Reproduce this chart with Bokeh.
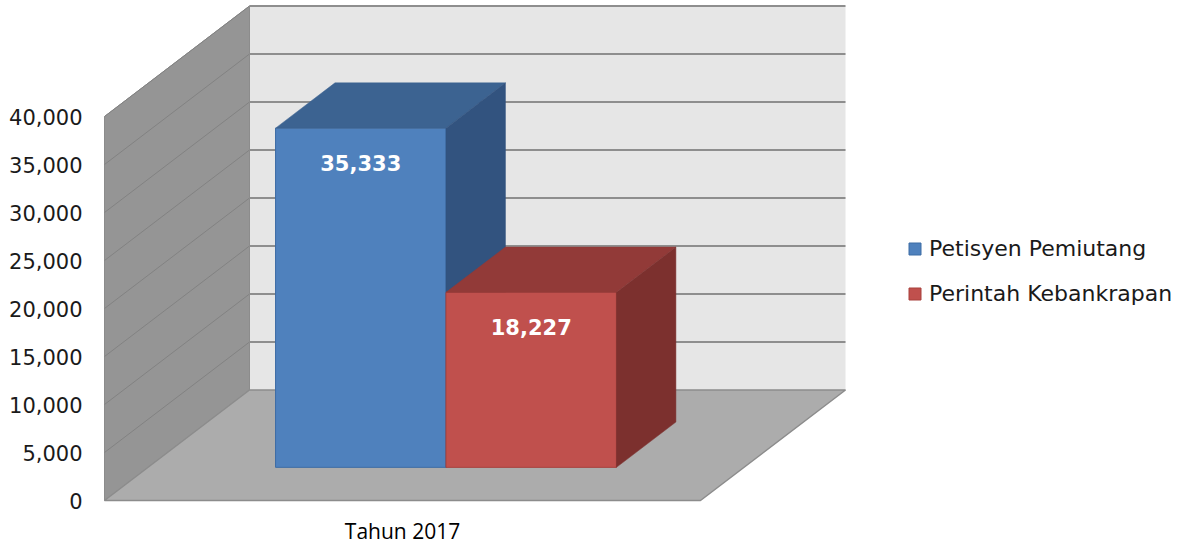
from bokeh.plotting import figure
from bokeh.models import Range1d, FixedTicker, NumeralTickFormatter, Legend, LegendItem
from bokeh.embed import file_html
from bokeh.resources import INLINE
from bokeh.core.properties import value

# ---- data ----
category = "Tahun 2017"
series = ["Petisyen Pemiutang", "Perintah Kebankrapan"]
values = [35333, 18227]
y_ticks = [0, 5000, 10000, 15000, 20000, 25000, 30000, 35000, 40000]

# ---- style ----
front_colors = ["#4f81bd", "#c0504d"]
front_lines = ["#3d6ca5", "#a8403d"]
top_colors = ["#3c6391", "#923a38"]
side_colors = ["#32537f", "#7c302e"]
WALL_LEFT = "#959595"
WALL_BACK = "#e6e6e6"
FLOOR = "#acacac"
EDGE = "#8c8c8c"

# projection: front plane u in [0,1] across the category, v = value; depth z in [0,1]
PX_X = 596.0          # px per category unit on front plane
PX_V = 48.0 / 5000.0  # px per value unit
D_PX = (145.0, 110.5)  # depth offset in px for z = 1
dU = D_PX[0] / PX_X
dV = D_PX[1] / PX_V
Z0, Z1 = 0.30, 0.71   # bar depth span
BAR_W = 0.286
VMAX = y_ticks[-1]

W, H = 1195, 545
LEFT = 96
ORIGIN_X, ORIGIN_Y = 104, 500   # pixel of (u=0, v=0) on the front plane
x_start = -(ORIGIN_X - LEFT) / PX_X
x_end = x_start + (W - LEFT) / PX_X
y_end = ORIGIN_Y / PX_V
y_start = y_end - H / PX_V

p = figure(width=W, height=H, x_range=Range1d(x_start, x_end), y_range=Range1d(y_start, y_end),
           output_backend="svg", toolbar_location=None, x_axis_location=None,
           min_border_left=LEFT, min_border_right=0, min_border_top=0, min_border_bottom=0)
p.outline_line_color = None
p.xgrid.visible = False
p.ygrid.visible = False

# walls & floor
p.patch([0, 0, dU, dU], [0, VMAX, VMAX + dV, dV], fill_color=WALL_LEFT, line_color=EDGE, line_width=1)
p.patch([dU, 1 + dU, 1 + dU, dU], [dV, dV, VMAX + dV, VMAX + dV], fill_color=WALL_BACK, line_color=None)
p.patch([0, 1, 1 + dU, dU], [0, 0, dV, dV], fill_color=FLOOR, line_color=EDGE, line_width=1.5)

# gridlines
grid_v = y_ticks[1:]
p.segment(x0=[dU] * len(grid_v), y0=[v + dV for v in grid_v], x1=[1 + dU] * len(grid_v),
          y1=[v + dV for v in grid_v], line_color="#8e8e8e", line_width=2)
p.segment(x0=[0] * len(grid_v), y0=grid_v, x1=[dU] * len(grid_v), y1=[v + dV for v in grid_v],
          line_color="#828282", line_width=1)
p.segment(x0=[dU], y0=[dV], x1=[dU], y1=[VMAX + dV], line_color=EDGE, line_width=1)

# bars
front_renderers = []
for i, val in enumerate(values):
    uL = 0.5 - BAR_W + i * BAR_W
    uR = uL + BAR_W
    fr = p.quad(left=[uL + Z0 * dU], right=[uR + Z0 * dU], bottom=[Z0 * dV], top=[val + Z0 * dV],
                fill_color=front_colors[i], line_color=front_lines[i], line_width=1)
    p.patch([uL + Z0 * dU, uL + Z1 * dU, uR + Z1 * dU, uR + Z0 * dU],
            [val + Z0 * dV, val + Z1 * dV, val + Z1 * dV, val + Z0 * dV],
            fill_color=top_colors[i], line_color=top_colors[i], line_width=0.5)
    p.patch([uR + Z0 * dU, uR + Z1 * dU, uR + Z1 * dU, uR + Z0 * dU],
            [Z0 * dV, Z1 * dV, val + Z1 * dV, val + Z0 * dV],
            fill_color=side_colors[i], line_color=side_colors[i], line_width=0.5)
    p.text(x=[(uL + uR) / 2 + Z0 * dU], y=[val + Z0 * dV - 35 / PX_V], text=[f"{val:,}"],
           text_font=value("DejaVu Sans"), text_font_style="bold", text_font_size="21px",
           text_color="white", text_align="center", text_baseline="middle")
    front_renderers.append(fr)

# category label
p.text(x=[0.5], y=[-30 / PX_V], text=[category], text_font=value("Open Sans"),
       text_font_size="21px", text_color="#000000", text_align="center", text_baseline="middle")

# y axis
ax = p.yaxis[0]
ax.ticker = FixedTicker(ticks=y_ticks)
ax.formatter = NumeralTickFormatter(format="0,0")
ax.axis_line_color = None
ax.major_tick_line_color = None
ax.minor_tick_line_color = None
ax.major_tick_in = 0
ax.major_tick_out = 0
ax.major_label_standoff = 14
ax.major_label_text_font = "DejaVu Sans"
ax.major_label_text_font_size = "21px"
ax.major_label_text_color = "#1a1a1a"

legend = Legend(items=[LegendItem(label=series[i], renderers=[front_renderers[i]]) for i in range(len(series))],
                location=(811, 239), orientation="vertical", glyph_width=15, glyph_height=15,
                label_standoff=7, spacing=20, padding=0, margin=0, label_height=25,
                border_line_alpha=0, background_fill_alpha=0,
                label_text_font="DejaVu Sans", label_text_font_size="22px", label_text_color="#1a1a1a")
p.add_layout(legend)

open("out.html", "w").write(file_html(p, INLINE))
